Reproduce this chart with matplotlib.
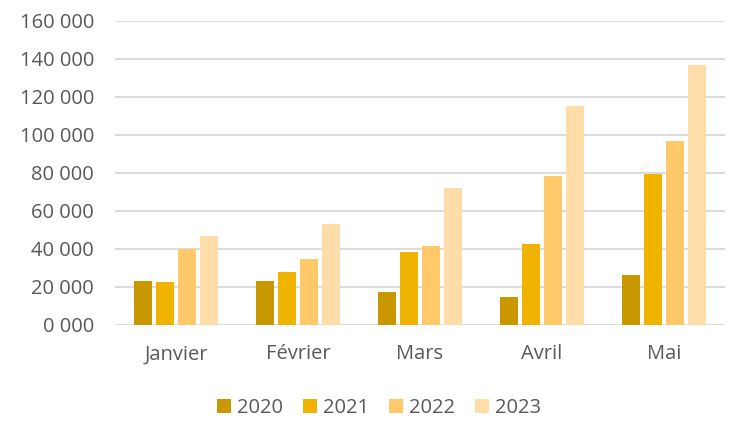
import numpy as np
import matplotlib.pyplot as plt
from matplotlib.ticker import FuncFormatter

months = ['Janvier', 'Février', 'Mars', 'Avril', 'Mai']
years = ['2020', '2021', '2022', '2023']
v2020 = [23300, 23300, 17400, 14900, 26100]
v2021 = [22400, 27700, 38600, 42800, 79600]
v2022 = [39800, 34500, 41700, 78500, 96700]
v2023 = [46800, 52900, 71900, 115100, 136700]
series = [v2020, v2021, v2022, v2023]
colors = ['#C99700', '#F0B300', '#FFC869', '#FFDDA8']

plt.rcParams['font.family'] = ['Open Sans', 'DejaVu Sans']

fig = plt.figure(figsize=(7.32, 4.21), dpi=100)
ax = fig.add_axes([115 / 732, 1 - 325 / 421, 610 / 732, 304 / 421])

x = np.arange(len(months))
step = 0.18
width = 0.145
for i, (vals, col, yr) in enumerate(zip(series, colors, years)):
    ax.bar(x + (i - 1.5) * step, vals, width, color=col, label=yr, zorder=3)

ax.set_xlim(-0.5, len(months) - 0.5)
ax.set_ylim(0, 160000)
ax.set_yticks(range(0, 160001, 20000))
ax.yaxis.set_major_formatter(FuncFormatter(
    lambda v, p: '%d 000' % (v // 1000)))
ax.set_xticks(x)
ax.set_xticklabels(months)
ax.grid(axis='y', color='#D9D9D9', linewidth=1.3, zorder=0)
for s in ax.spines.values():
    s.set_visible(False)
ax.tick_params(length=0, labelsize=14.5, colors='#595959')
ax.tick_params(axis='x', pad=14)
ax.tick_params(axis='y', pad=15)

fig.legend(loc='center', bbox_to_anchor=(0.518, 1 - 408 / 421), ncol=4,
           frameon=False, fontsize=14.5, handlelength=0.68, handleheight=0.68,
           handletextpad=0.3, columnspacing=1.0, labelcolor='#595959')

fig.savefig('out.png', dpi=100)
